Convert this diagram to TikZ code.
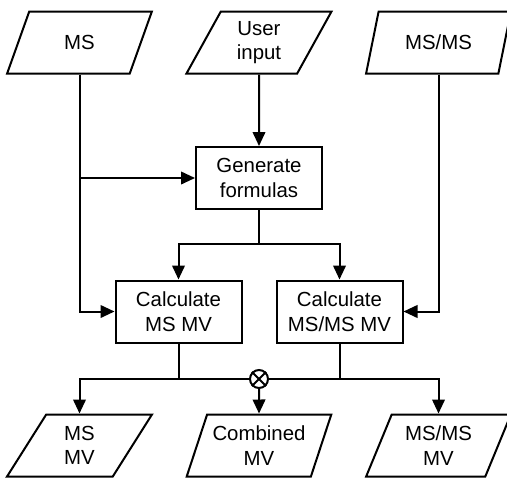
\documentclass[tikz,border=0pt]{standalone}
\usepackage{fontspec}
\setmainfont{Liberation Sans}
\usetikzlibrary{shapes.geometric,arrows.meta}
\begin{document}
\begin{tikzpicture}[x=0.5pt,y=-0.5pt,line width=1pt,
	txt/.style={align=center,font=\fontsize{10.2}{12.2}\selectfont},
	io/.style={txt,draw,trapezium,trapezium left angle=65,trapezium right angle=115,trapezium stretches=true,minimum width=72.5pt,minimum height=31pt,inner sep=0pt},
	proc/.style={txt,draw,rectangle,minimum width=63pt,minimum height=31pt,inner sep=0pt},
	flow/.style={-{Triangle[length=7pt,width=6.3pt]}}]
	\useasboundingbox (0,0) rectangle (507,477);
	
	\node[io] (ms) at (79.5,42.5) {MS};
	\node[io] (usr) at (259,42.5) {User\\input};
	\node[io] (msms) at (438.5,42.5) {MS/MS};
	\node[proc] (gen) at (259,178) {Generate\\formulas};
	\node[proc] (cms) at (178.5,311.5) {Calculate\\MS MV};
	\node[proc] (cmsms) at (339.5,311.5) {Calculate\\MS/MS MV};
	\node[draw,circle,minimum size=9pt,inner sep=0pt] (mul) at (259,379) {};
	\node[io] (msmv) at (79.5,445.5) {MS\\MV};
	\node[io] (cmb) at (259,445.5) {Combined\\MV};
	\node[io] (msmsmv) at (438.5,445.5) {MS/MS\\MV};
	\coordinate (jg) at (259,244);
	
	\draw (mul.north west) -- (mul.south east);
	\draw (mul.north east) -- (mul.south west);
	
	\draw [flow] (usr) -- (gen);
	\draw [flow] (ms.south) |- (cms.west);
	\draw [flow] (ms.south |- gen.west) -- (gen.west);
	\draw [flow] (msms.south) |- (cmsms.east);
	\draw (gen.south) -- (jg);
	\draw [flow] (jg) -| (cms.north);
	\draw [flow] (jg) -| (cmsms.north);
	\draw (cms.south) -- (cms.south |- mul);
	\draw (cmsms.south) -- (cmsms.south |- mul);
	\draw [flow] (mul.west) -| (msmv.north);
	\draw [flow] (mul.east) -| (msmsmv.north);
	\draw [flow] (mul) -- (cmb);
\end{tikzpicture}
\end{document}
